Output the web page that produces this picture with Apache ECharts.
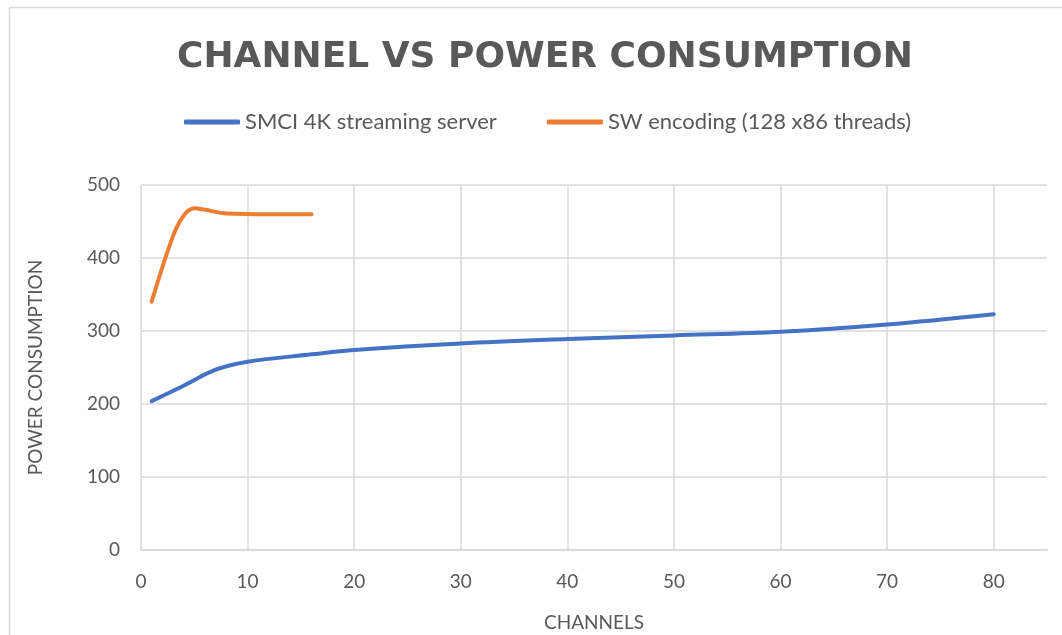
<!DOCTYPE html>
<html><head><meta charset="utf-8">
<script src="https://cdn.jsdelivr.net/npm/echarts@6/dist/echarts.min.js"></script>
<style>html,body{margin:0;padding:0;background:#fff}#c{width:1062px;height:635px}</style>
</head><body><div id="c"></div>
<script>
const titleText = 'CHANNEL VS POWER CONSUMPTION';
const seriesNames = ['SMCI 4K streaming server', 'SW encoding (128 x86 threads)'];
const smciX = [1, 4, 7, 10, 16, 20, 30, 40, 50, 60, 70, 80];
const smciY = [204, 225, 247, 258, 268, 274, 283, 289, 294, 299, 309, 323];
const swX = [1, 3, 4, 5, 6, 8, 12, 16];
const swY = [340, 430, 458, 468, 466, 461, 460, 460];
const xTicks = [0, 10, 20, 30, 40, 50, 60, 70, 80];
const yTicks = [0, 100, 200, 300, 400, 500];

const grey = '#595959', gridC = '#d9d9d9';
const chart = echarts.init(document.getElementById('c'));
chart.setOption({
  animation: false,
  title: { text: titleText, left: 172, top: 35,
    textStyle: { fontFamily: 'DejaVu Sans', fontWeight: 'bold', fontSize: 36, color: grey } },
  legend: { top: 111, left: 184, padding: 0, itemGap: 50, itemWidth: 56, itemHeight: 5,
    icon: 'roundRect', textStyle: { fontFamily: 'Lato', fontSize: 22, color: grey } },
  graphic: [{ type: 'rect', shape: { x: 9.5, y: 7.5, width: 1080, height: 660 },
    style: { fill: 'none', stroke: gridC, lineWidth: 1.5 }, silent: true }],
  grid: { left: 141, top: 185, right: 15, bottom: 85, outerBoundsMode: 'none', containLabel: false },
  xAxis: { type: 'value', min: 0, max: 85, interval: 10,
    name: 'CHANNELS', nameLocation: 'middle', nameGap: 63,
    nameTextStyle: { fontFamily: 'Lato', fontSize: 19, color: grey },
    axisLine: { show: true, lineStyle: { color: gridC, width: 1.5 } },
    axisTick: { show: false },
    axisLabel: { margin: 22, fontFamily: 'Lato', fontSize: 19, color: grey, showMaxLabel: false,
      formatter: v => xTicks.includes(v) ? String(v) : '' },
    splitLine: { show: true, showMaxLine: false, lineStyle: { color: gridC, width: 1.5 } } },
  yAxis: { type: 'value', min: 0, max: 500, interval: 100,
    name: 'POWER CONSUMPTION', nameLocation: 'middle', nameGap: 96,
    nameTextStyle: { fontFamily: 'Lato', fontSize: 19, color: grey },
    axisLine: { show: false }, axisTick: { show: false },
    axisLabel: { margin: 21, fontFamily: 'Lato', fontSize: 19, color: grey,
      formatter: v => yTicks.includes(v) ? String(v) : '' },
    splitLine: { show: true, lineStyle: { color: gridC, width: 1.5 } } },
  series: [
    { name: seriesNames[0], type: 'line', smooth: 0.35, showSymbol: false,
      data: smciX.map((x, i) => [x, smciY[i]]),
      lineStyle: { color: '#4472C4', width: 4, cap: 'round' }, itemStyle: { color: '#4472C4' } },
    { name: seriesNames[1], type: 'line', smooth: 0.35, showSymbol: false,
      data: swX.map((x, i) => [x, swY[i]]),
      lineStyle: { color: '#ED7D31', width: 4, cap: 'round' }, itemStyle: { color: '#ED7D31' } }
  ]
});
</script></body></html>
